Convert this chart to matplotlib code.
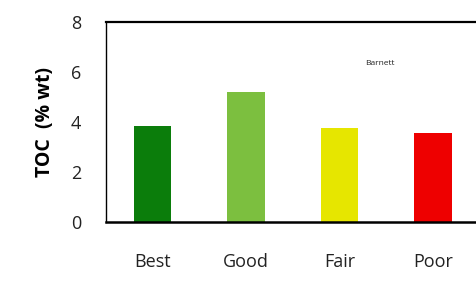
import matplotlib
matplotlib.use("Agg")
import matplotlib.pyplot as plt

categories = ["Best", "Good", "Fair", "Poor"]
toc_values = [3.84, 5.2, 3.76, 3.56]
bar_colors = ["#0b7d0b", "#7cbf3f", "#e6e600", "#ee0000"]
y_ticks = [0, 2, 4, 6, 8]

plt.rcParams['font.family'] = ['Open Sans', 'DejaVu Sans']

fig = plt.figure(figsize=(4.76, 2.84), dpi=100)
W, H = 476, 284
ax = fig.add_axes([106 / W, (H - 222) / H, (W - 106) / W, 200 / H])

x = list(range(len(categories)))
ax.bar(x, toc_values, width=0.4, color=bar_colors, edgecolor='none')

ax.set_xlim(-0.5, 3.46)
ax.set_ylim(0, 8)
ax.set_yticks(y_ticks)
ax.set_yticklabels([str(t) for t in y_ticks], fontsize=13, color='#222222')
ax.set_xticks(x)
ax.set_xticklabels(categories, fontsize=13, color='#222222')
ax.tick_params(axis='y', length=0, pad=18)
ax.tick_params(axis='x', length=0, pad=22)

ax.spines['right'].set_visible(False)
ax.spines['top'].set_linewidth(1.6)
ax.spines['bottom'].set_linewidth(1.8)
ax.spines['left'].set_linewidth(1.0)
for s in ax.spines.values():
    s.set_color('black')

ax.set_ylabel("TOC  (% wt)", fontsize=14, fontweight='bold', labelpad=11)
ax.text(2.43, 6.36, "Barnett", fontsize=6, ha='center', va='center', color='#222222')

fig.savefig("out.png", dpi=100)
